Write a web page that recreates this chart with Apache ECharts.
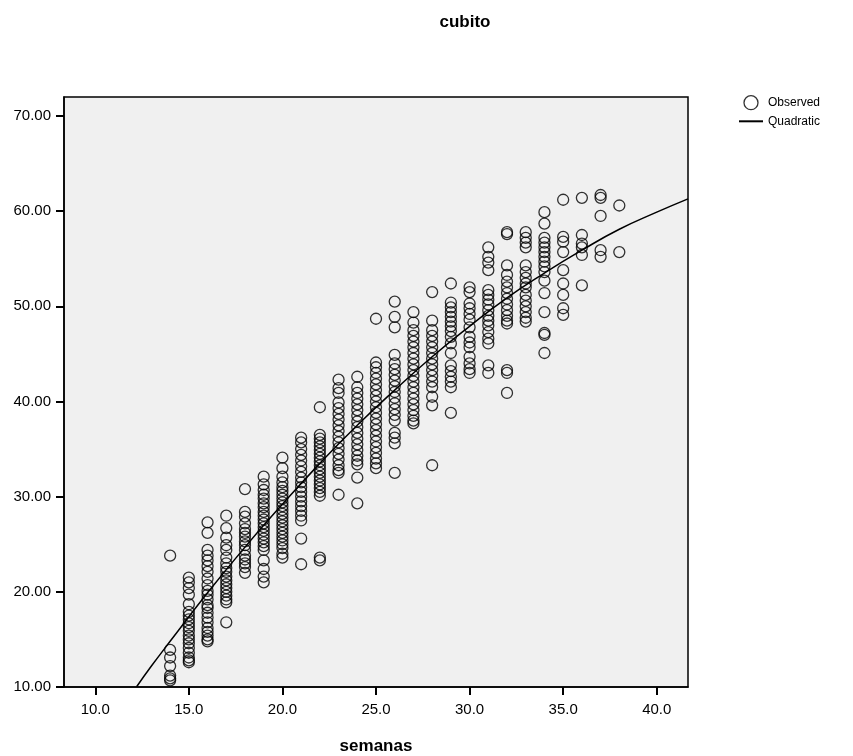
<!DOCTYPE html>
<html>
<head>
<meta charset="utf-8">
<script src="https://cdn.jsdelivr.net/npm/echarts@6/dist/echarts.min.js"></script>
<style>
html,body{margin:0;padding:0;background:#fff;}
#chart{width:853px;height:756px;}
</style>
</head>
<body>
<div id="chart"></div>
<script>
// Observed values per gestational week (semanas)
const weeks = [14,15,16,17,18,19,20,21,22,23,24,25,26,27,28,29,30,31,32,33,34,35,36,37,38];
const cubito = [
  [23.8, 13.9, 13.1, 12.2, 11.2, 10.9, 10.7],
  [21.5, 21.0, 20.4, 19.7, 18.7, 17.9, 17.5, 17.1, 16.7, 16.3, 15.9, 15.4, 15.0, 14.6, 14.1, 13.6, 13.1, 12.8, 12.6],
  [27.3, 26.2, 24.4, 23.8, 23.3, 22.7, 22.1, 21.4, 20.7, 20.1, 19.7, 19.2, 18.6, 18.3, 17.8, 17.3, 16.8, 16.2, 15.8, 15.4, 15.0, 14.8],
  [28.0, 26.7, 25.7, 24.9, 24.4, 23.6, 23.0, 22.5, 22.1, 21.6, 21.2, 20.8, 20.4, 20.0, 19.6, 19.2, 18.9, 16.8],
  [30.8, 28.4, 27.9, 27.2, 26.6, 26.2, 25.8, 25.3, 24.9, 24.4, 23.8, 23.4, 23.0, 22.6, 22.0],
  [32.1, 31.3, 30.7, 30.2, 29.8, 29.3, 28.9, 28.4, 28.0, 27.6, 27.2, 26.8, 26.4, 26.0, 25.6, 25.2, 24.8, 24.4, 23.3, 22.4, 21.6, 21.0],
  [34.1, 33.0, 32.1, 31.5, 31.0, 30.6, 30.2, 29.8, 29.4, 29.0, 28.6, 28.2, 27.8, 27.4, 27.0, 26.6, 26.2, 25.8, 25.4, 25.0, 24.6, 24.0, 23.6],
  [36.2, 35.7, 35.0, 34.4, 33.8, 33.2, 32.6, 32.0, 31.5, 31.0, 30.5, 30.0, 29.5, 29.0, 28.5, 28.0, 27.5, 25.6, 22.9],
  [39.4, 36.5, 36.1, 35.7, 35.3, 34.9, 34.5, 34.1, 33.7, 33.3, 32.9, 32.5, 32.1, 31.7, 31.3, 30.9, 30.5, 30.1, 23.6, 23.3],
  [42.3, 41.4, 40.9, 39.9, 39.3, 38.7, 38.1, 37.5, 36.9, 36.3, 35.7, 35.1, 34.5, 33.9, 33.3, 32.8, 32.5, 30.2],
  [42.6, 41.5, 40.9, 40.3, 39.7, 39.1, 38.5, 37.9, 37.3, 36.7, 36.1, 35.5, 34.9, 34.3, 33.8, 33.4, 32.0, 29.3],
  [48.7, 44.1, 43.6, 43.0, 42.4, 41.8, 41.2, 40.6, 40.0, 39.4, 38.8, 38.2, 37.6, 37.0, 36.4, 35.8, 35.2, 34.6, 34.0, 33.5, 33.0],
  [50.5, 48.9, 47.8, 44.9, 44.0, 43.4, 42.8, 42.2, 41.6, 41.0, 40.4, 39.8, 39.2, 38.6, 38.0, 36.7, 36.2, 35.6, 32.5],
  [49.4, 48.3, 47.5, 46.9, 46.3, 45.7, 45.1, 44.5, 43.9, 43.3, 42.7, 42.1, 41.5, 40.9, 40.3, 39.7, 39.1, 38.5, 38.0, 37.7],
  [51.5, 48.5, 47.5, 46.9, 46.3, 45.7, 45.1, 44.5, 43.9, 43.3, 42.7, 42.1, 41.5, 40.5, 39.6, 33.3],
  [52.4, 50.4, 49.9, 49.4, 48.9, 48.4, 47.9, 47.4, 46.8, 46.1, 45.1, 43.8, 43.2, 42.6, 42.1, 41.5, 38.8],
  [52.0, 51.5, 50.3, 49.8, 49.2, 48.6, 47.8, 46.8, 46.2, 45.7, 44.7, 44.0, 43.4, 43.0],
  [56.2, 55.2, 54.6, 53.8, 51.7, 51.2, 50.7, 50.2, 49.6, 49.0, 48.5, 48.0, 47.3, 46.6, 46.1, 43.8, 43.0],
  [57.8, 57.6, 54.3, 53.3, 52.6, 52.0, 51.4, 50.8, 50.2, 49.6, 49.0, 48.5, 48.2, 43.3, 43.0, 40.9],
  [57.8, 57.2, 56.7, 56.2, 54.3, 53.6, 53.0, 52.4, 52.0, 51.2, 50.6, 50.0, 49.4, 48.8, 48.4],
  [59.9, 58.7, 57.2, 56.7, 56.2, 55.7, 55.2, 54.7, 54.2, 53.6, 52.7, 51.4, 49.4, 47.2, 47.0, 45.1],
  [61.2, 57.3, 56.8, 55.7, 53.8, 52.4, 51.2, 49.8, 49.1],
  [61.4, 57.5, 56.6, 56.2, 55.4, 52.2],
  [61.7, 61.4, 59.5, 55.9, 55.2],
  [60.6, 55.7]
];
// Quadratic fit curve
const fitX = [12.2, 13, 14, 16, 18, 20, 22, 24, 26, 28, 30, 32, 34, 36, 38, 40, 41.67];
const fitY = [10.0, 12.2, 14.8, 19.9, 24.7, 29.2, 33.5, 37.5, 41.2, 44.7, 47.9, 50.9, 53.5, 55.9, 58.1, 59.9, 61.3];
const xTicks = [10, 15, 20, 25, 30, 35, 40];
const yTicks = [10, 20, 30, 40, 50, 60, 70];

const observed = [];
weeks.forEach((w, i) => cubito[i].forEach(v => observed.push([w, v])));
const fitted = fitX.map((x, i) => [x, fitY[i]]);

const chart = echarts.init(document.getElementById('chart'));
const font = 'Liberation Sans, Arial, sans-serif';
chart.setOption({
  backgroundColor: '#fff',
  animation: false,
  title: {
    text: 'cubito', left: 460, top: 9, textAlign: 'center',
    textStyle: {fontFamily: font, fontSize: 17, fontWeight: 'bold', color: '#000'}
  },
  legend: {
    orient: 'vertical', left: 733, top: 90, itemWidth: 24, itemHeight: 14, itemGap: 5,
    textStyle: {fontFamily: font, fontSize: 12, color: '#000'},
    data: [
      {name: 'Observed', icon: 'circle', itemStyle: {color: 'transparent', borderColor: '#000', borderWidth: 1.3}},
      {name: 'Quadratic', itemStyle: {color: 'transparent', borderColor: 'transparent', borderWidth: 0, opacity: 0}}
    ]
  },
  grid: {
    left: 64, right: 165, top: 97, bottom: 69, show: true, outerBoundsMode: 'none', containLabel: false,
    backgroundColor: '#f0f0f0', borderColor: '#000', borderWidth: 1.5
  },
  xAxis: {
    type: 'value', min: 8.33, max: 41.67,
    name: 'semanas', nameLocation: 'middle', nameGap: 51,
    nameTextStyle: {fontFamily: font, fontSize: 17, fontWeight: 'bold', color: '#000'},
    axisLine: {show: true, lineStyle: {color: '#000', width: 1.5}},
    axisTick: {show: true, inside: false, length: 8, lineStyle: {color: '#000', width: 2}, customValues: xTicks},
    axisLabel: {fontFamily: font, fontSize: 15, color: '#000', margin: 15, customValues: xTicks,
      formatter: v => Number(v).toFixed(1)},
    splitLine: {show: false}
  },
  yAxis: {
    type: 'value', min: 10, max: 72,
    axisLine: {show: true, lineStyle: {color: '#000', width: 1.5}},
    axisTick: {show: true, inside: false, length: 8, lineStyle: {color: '#000', width: 2}, customValues: yTicks},
    axisLabel: {fontFamily: font, fontSize: 15, color: '#000', margin: 13, customValues: yTicks,
      formatter: v => Number(v).toFixed(2)},
    splitLine: {show: false}
  },
  series: [
    {
      name: 'Observed', type: 'scatter', data: observed, symbol: 'circle', symbolSize: 11,
      itemStyle: {color: 'transparent', borderColor: '#000', borderWidth: 1.3}
    },
    {
      name: 'Quadratic', type: 'line', data: fitted, smooth: true, showSymbol: false, symbol: 'none',
      lineStyle: {color: '#000', width: 1.5}, itemStyle: {color: '#000'}
    }
  ]
});
</script>
</body>
</html>
